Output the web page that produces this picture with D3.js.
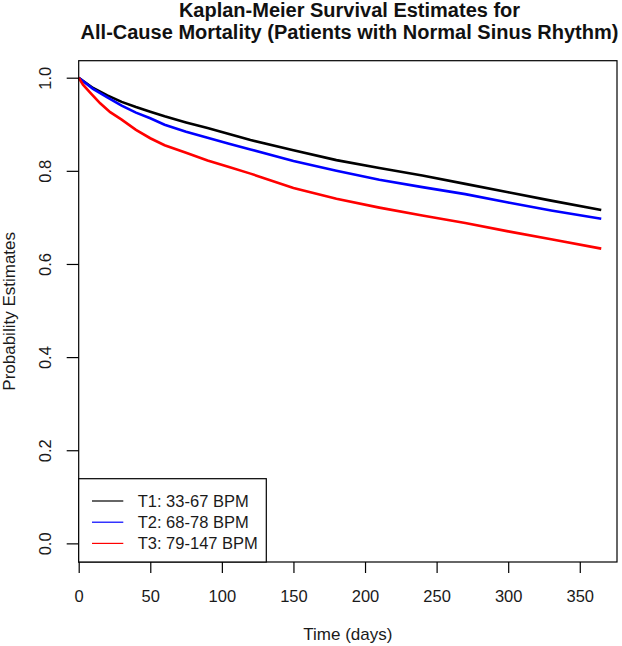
<!DOCTYPE html>
<html>
<head>
<meta charset="utf-8">
<script src="https://cdn.jsdelivr.net/npm/d3@7"></script>
<style>
  body { margin: 0; background: #fff; }
  text { font-family: "Liberation Sans", Arial, sans-serif; }
</style>
</head>
<body>
<div id="chart-container"></div>
<script>
// Kaplan-Meier curves, values
const days = [0, 10, 20, 30, 40, 50, 60, 75, 90, 105, 120, 150, 180, 210, 240, 270, 300, 330, 365];
const t1 = [1.0, 0.978, 0.962, 0.948, 0.937, 0.927, 0.917, 0.904, 0.892, 0.879, 0.866, 0.844, 0.823, 0.806, 0.790, 0.772, 0.754, 0.736, 0.716];
const t2 = [1.0, 0.976, 0.958, 0.940, 0.925, 0.913, 0.899, 0.884, 0.871, 0.858, 0.846, 0.821, 0.800, 0.781, 0.765, 0.750, 0.732, 0.715, 0.697];
const daysT3 = [0, 3, 8, 15, 22, 30, 40, 50, 60, 75, 90, 105, 120, 150, 180, 210, 240, 270, 300, 330, 365];
const t3 = [1.0, 0.985, 0.968, 0.945, 0.926, 0.910, 0.888, 0.870, 0.855, 0.839, 0.822, 0.808, 0.794, 0.763, 0.740, 0.721, 0.704, 0.688, 0.670, 0.653, 0.633];

const groups = ["T1: 33-67 BPM", "T2: 68-78 BPM", "T3: 79-147 BPM"];
const colors = ["#000000", "#0000ff", "#ff0000"];
const xTicks = [0, 50, 100, 150, 200, 250, 300, 350];
const yTicks = [0, 0.2, 0.4, 0.6, 0.8, 1.0];

const series = [
    { name: groups[0], color: colors[0], pts: days.map((d, i) => [d, t1[i]]) },
    { name: groups[1], color: colors[1], pts: days.map((d, i) => [d, t2[i]]) },
    { name: groups[2], color: colors[2], pts: daysT3.map((d, i) => [d, t3[i]]) }
];

const width = 622, height = 646;
const pLeft = 78.7, pRight = 617, pTop = 60.7, pBottom = 562;

const svg = d3.select("#chart-container")
    .append("svg")
    .attr("width", width)
    .attr("height", height);

const x = d3.scaleLinear().domain([0, 376]).range([pLeft, pRight]);
const y = d3.scaleLinear().domain([-0.04, 1.0365]).range([pBottom, pTop]);

// curves
const line = d3.line().x(d => x(d[0])).y(d => y(d[1]));
svg.selectAll(".km")
    .data(series)
    .enter()
    .append("path")
    .attr("class", "km")
    .attr("d", d => line(d.pts))
    .attr("fill", "none")
    .attr("stroke", d => d.color)
    .attr("stroke-width", 2.6);

// box
svg.append("rect")
    .attr("x", pLeft).attr("y", pTop)
    .attr("width", pRight - pLeft).attr("height", pBottom - pTop)
    .attr("fill", "none").attr("stroke", "#000").attr("stroke-width", 1.2);

// axes
const xAxis = svg.append("g")
    .attr("transform", `translate(0, ${pBottom})`)
    .call(d3.axisBottom(x).tickValues(xTicks).tickSize(11).tickPadding(17).tickFormat(d3.format("d")));
xAxis.select(".domain").remove();
xAxis.selectAll("line").attr("stroke-width", 1.2);
xAxis.selectAll("text").attr("font-size", "16.5px").attr("fill", "#1a1a1a")
    .style("font-family", "'Liberation Sans', Arial, sans-serif");

const yAxis = svg.append("g")
    .attr("transform", `translate(${pLeft}, 0)`)
    .call(d3.axisLeft(y).tickValues(yTicks).tickSize(12).tickFormat(d3.format(".1f")));
yAxis.select(".domain").remove();
yAxis.selectAll("line").attr("stroke-width", 1.2);
yAxis.selectAll("text")
    .attr("font-size", "16.5px").attr("fill", "#1a1a1a")
    .style("font-family", "'Liberation Sans', Arial, sans-serif")
    .attr("text-anchor", "middle")
    .attr("x", 0).attr("dy", 0)
    .attr("transform", "translate(-27.5, 0) rotate(-90)");

// titles
const title = svg.append("g").attr("font-weight", "bold").attr("font-size", "20px")
    .attr("text-anchor", "middle").attr("fill", "#111");
title.append("text").attr("x", 349.5).attr("y", 16.5).text("Kaplan-Meier Survival Estimates for");
title.append("text").attr("x", 349.5).attr("y", 39).text("All-Cause Mortality (Patients with Normal Sinus Rhythm)");

svg.append("text")
    .attr("x", (pLeft + pRight) / 2).attr("y", 640)
    .attr("text-anchor", "middle").attr("font-size", "17px").attr("fill", "#1a1a1a")
    .text("Time (days)");

svg.append("text")
    .attr("transform", `translate(15, ${(pTop + pBottom) / 2}) rotate(-90)`)
    .attr("text-anchor", "middle").attr("font-size", "17px").attr("fill", "#1a1a1a")
    .text("Probability Estimates");

// legend
const legend = svg.append("g");
legend.append("rect")
    .attr("x", pLeft).attr("y", 478.7)
    .attr("width", 266.3 - pLeft).attr("height", pBottom - 478.7)
    .attr("fill", "#fff").attr("stroke", "#000").attr("stroke-width", 1.2);
const rows = legend.selectAll(".row")
    .data(series)
    .enter()
    .append("g")
    .attr("transform", (d, i) => `translate(0, ${501 + i * 21.2})`);
rows.append("line")
    .attr("x1", 92).attr("x2", 123.3)
    .attr("stroke", d => d.color).attr("stroke-width", 1.2);
rows.append("text")
    .attr("x", 137.7).attr("dy", "0.36em")
    .attr("font-size", "16.5px").attr("fill", "#1a1a1a")
    .text(d => d.name);
</script>
</body>
</html>
